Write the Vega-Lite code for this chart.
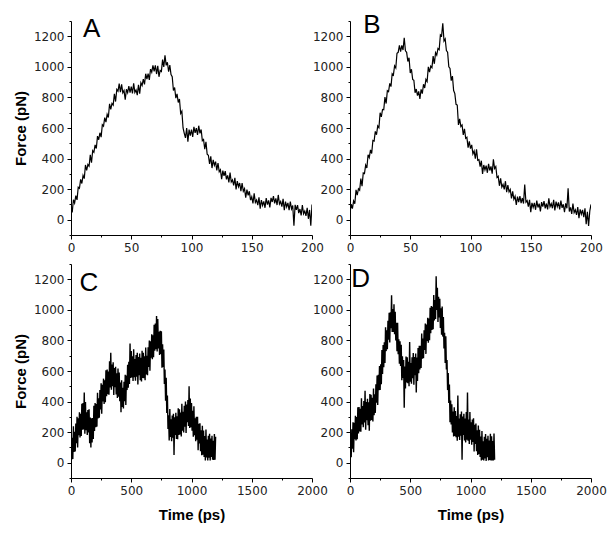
{
"$schema": "https://vega.github.io/schema/vega-lite/v6.json",
"padding": {"left": 13, "top": 12, "right": 5, "bottom": 5},
"background": "white",
"columns": 2,
"spacing": {"row": 29, "column": 38},
"bounds": "flush",
"config": {
  "view": {"stroke": null},
  "axis": {"grid": false, "domainColor": "black", "domainWidth": 1, "tickColor": "black", "tickWidth": 1,
    "labelFont": "DejaVu Sans", "labelFontSize": 12, "labelColor": "#222", "labelPadding": 3,
    "labelFlush": false, "labelOverlap": false, "format": "d",
    "titleFont": "Liberation Sans", "titleFontSize": 15, "titleFontWeight": "bold", "titleColor": "black"},
  "axisX": {"titlePadding": 11},
  "axisY": {"titlePadding": 5}
},
"datasets": {
"A": [{"t":0,"f":70},{"t":1,"f":48},{"t":2,"f":131},{"t":3,"f":109},{"t":4,"f":157},{"t":5,"f":130},{"t":6,"f":213},{"t":7,"f":206},{"t":8,"f":264},{"t":9,"f":237},{"t":10,"f":290},{"t":11,"f":269},{"t":12,"f":358},{"t":13,"f":322},{"t":14,"f":361},{"t":15,"f":350},{"t":16,"f":424},{"t":17,"f":373},{"t":18,"f":452},{"t":19,"f":441},{"t":20,"f":490},{"t":21,"f":466},{"t":22,"f":547},{"t":23,"f":523},{"t":24,"f":569},{"t":25,"f":540},{"t":26,"f":621},{"t":27,"f":612},{"t":28,"f":668},{"t":29,"f":639},{"t":30,"f":690},{"t":31,"f":669},{"t":32,"f":758},{"t":33,"f":722},{"t":34,"f":761},{"t":35,"f":750},{"t":36,"f":824},{"t":37,"f":773},{"t":38,"f":852},{"t":39,"f":841},{"t":40,"f":890},{"t":41,"f":835},{"t":42,"f":885},{"t":43,"f":830},{"t":44,"f":845},{"t":45,"f":785},{"t":46,"f":853},{"t":47,"f":831},{"t":48,"f":874},{"t":49,"f":832},{"t":50,"f":870},{"t":51,"f":826},{"t":52,"f":892},{"t":53,"f":833},{"t":54,"f":849},{"t":55,"f":815},{"t":56,"f":882},{"t":57,"f":824},{"t":58,"f":896},{"t":59,"f":878},{"t":60,"f":920},{"t":61,"f":885},{"t":62,"f":955},{"t":63,"f":920},{"t":64,"f":955},{"t":65,"f":915},{"t":66,"f":985},{"t":67,"f":965},{"t":68,"f":1010},{"t":69,"f":970},{"t":70,"f":1010},{"t":71,"f":953},{"t":72,"f":1007},{"t":73,"f":935},{"t":74,"f":977},{"t":75,"f":970},{"t":76,"f":1047},{"t":77,"f":1000},{"t":78,"f":1075},{"t":79,"f":1010},{"t":80,"f":1030},{"t":81,"f":968},{"t":82,"f":1012},{"t":83,"f":950},{"t":84,"f":935},{"t":85,"f":845},{"t":86,"f":865},{"t":87,"f":795},{"t":88,"f":823},{"t":89,"f":767},{"t":90,"f":790},{"t":91,"f":695},{"t":92,"f":710},{"t":93,"f":600},{"t":94,"f":565},{"t":95,"f":535},{"t":96,"f":600},{"t":97,"f":510},{"t":98,"f":590},{"t":99,"f":550},{"t":100,"f":590},{"t":101,"f":541},{"t":102,"f":607},{"t":103,"f":568},{"t":104,"f":599},{"t":105,"f":555},{"t":106,"f":615},{"t":107,"f":565},{"t":108,"f":590},{"t":109,"f":517},{"t":110,"f":525},{"t":111,"f":462},{"t":112,"f":510},{"t":113,"f":428},{"t":114,"f":422},{"t":115,"f":365},{"t":116,"f":414},{"t":117,"f":338},{"t":118,"f":392},{"t":119,"f":356},{"t":120,"f":380},{"t":121,"f":323},{"t":122,"f":371},{"t":123,"f":314},{"t":124,"f":327},{"t":125,"f":265},{"t":126,"f":321},{"t":127,"f":287},{"t":128,"f":318},{"t":129,"f":264},{"t":130,"f":290},{"t":131,"f":244},{"t":132,"f":308},{"t":133,"f":247},{"t":134,"f":261},{"t":135,"f":225},{"t":136,"f":274},{"t":137,"f":198},{"t":138,"f":252},{"t":139,"f":216},{"t":140,"f":240},{"t":141,"f":187},{"t":142,"f":239},{"t":143,"f":186},{"t":144,"f":203},{"t":145,"f":145},{"t":146,"f":197},{"t":147,"f":159},{"t":148,"f":186},{"t":149,"f":128},{"t":150,"f":150},{"t":151,"f":106},{"t":152,"f":172},{"t":153,"f":113},{"t":154,"f":129},{"t":155,"f":95},{"t":156,"f":146},{"t":157,"f":72},{"t":158,"f":128},{"t":159,"f":94},{"t":160,"f":120},{"t":161,"f":78},{"t":162,"f":141},{"t":163,"f":99},{"t":164,"f":127},{"t":165,"f":80},{"t":166,"f":143},{"t":167,"f":116},{"t":168,"f":154},{"t":169,"f":107},{"t":170,"f":140},{"t":171,"f":96},{"t":172,"f":162},{"t":173,"f":103},{"t":174,"f":119},{"t":175,"f":85},{"t":176,"f":136},{"t":177,"f":62},{"t":178,"f":118},{"t":179,"f":84},{"t":180,"f":110},{"t":181,"f":62},{"t":182,"f":119},{"t":183,"f":71},{"t":184,"f":93},{"t":185,"f":-40},{"t":186,"f":97},{"t":187,"f":64},{"t":188,"f":96},{"t":189,"f":43},{"t":190,"f":70},{"t":191,"f":28},{"t":192,"f":96},{"t":193,"f":39},{"t":194,"f":57},{"t":195,"f":25},{"t":196,"f":78},{"t":197,"f":6},{"t":198,"f":64},{"t":199,"f":-40},{"t":200,"f":100}],
"B": [{"t":0,"f":45},{"t":1,"f":101},{"t":2,"f":72},{"t":3,"f":123},{"t":4,"f":104},{"t":5,"f":195},{"t":6,"f":161},{"t":7,"f":202},{"t":8,"f":193},{"t":9,"f":269},{"t":10,"f":220},{"t":11,"f":306},{"t":12,"f":302},{"t":13,"f":358},{"t":14,"f":339},{"t":15,"f":425},{"t":16,"f":406},{"t":17,"f":457},{"t":18,"f":433},{"t":19,"f":519},{"t":20,"f":515},{"t":21,"f":578},{"t":22,"f":556},{"t":23,"f":614},{"t":24,"f":602},{"t":25,"f":700},{"t":26,"f":673},{"t":27,"f":721},{"t":28,"f":719},{"t":29,"f":802},{"t":30,"f":760},{"t":31,"f":844},{"t":32,"f":838},{"t":33,"f":892},{"t":34,"f":871},{"t":35,"f":955},{"t":36,"f":946},{"t":37,"f":1007},{"t":38,"f":993},{"t":39,"f":1089},{"t":40,"f":1095},{"t":41,"f":1140},{"t":42,"f":1100},{"t":43,"f":1140},{"t":44,"f":1110},{"t":45,"f":1190},{"t":46,"f":1105},{"t":47,"f":1095},{"t":48,"f":1035},{"t":49,"f":1060},{"t":50,"f":960},{"t":51,"f":984},{"t":52,"f":918},{"t":53,"f":912},{"t":54,"f":831},{"t":55,"f":855},{"t":56,"f":812},{"t":57,"f":839},{"t":58,"f":791},{"t":59,"f":853},{"t":60,"f":825},{"t":61,"f":886},{"t":62,"f":862},{"t":63,"f":918},{"t":64,"f":904},{"t":65,"f":1000},{"t":66,"f":965},{"t":67,"f":1005},{"t":68,"f":995},{"t":69,"f":1070},{"t":70,"f":1020},{"t":71,"f":1093},{"t":72,"f":1077},{"t":73,"f":1120},{"t":74,"f":1112},{"t":75,"f":1210},{"t":76,"f":1202},{"t":77,"f":1285},{"t":78,"f":1169},{"t":79,"f":1183},{"t":80,"f":1107},{"t":81,"f":1096},{"t":82,"f":1000},{"t":83,"f":990},{"t":84,"f":910},{"t":85,"f":940},{"t":86,"f":845},{"t":87,"f":825},{"t":88,"f":755},{"t":89,"f":750},{"t":90,"f":620},{"t":91,"f":660},{"t":92,"f":610},{"t":93,"f":620},{"t":94,"f":555},{"t":95,"f":595},{"t":96,"f":532},{"t":97,"f":539},{"t":98,"f":471},{"t":99,"f":513},{"t":100,"f":465},{"t":101,"f":490},{"t":102,"f":430},{"t":103,"f":450},{"t":104,"f":400},{"t":105,"f":460},{"t":106,"f":389},{"t":107,"f":393},{"t":108,"f":347},{"t":109,"f":386},{"t":110,"f":300},{"t":111,"f":358},{"t":112,"f":326},{"t":113,"f":354},{"t":114,"f":307},{"t":115,"f":365},{"t":116,"f":322},{"t":117,"f":349},{"t":118,"f":301},{"t":119,"f":395},{"t":120,"f":335},{"t":121,"f":348},{"t":122,"f":276},{"t":123,"f":284},{"t":124,"f":222},{"t":125,"f":270},{"t":126,"f":213},{"t":127,"f":231},{"t":128,"f":199},{"t":129,"f":252},{"t":130,"f":180},{"t":131,"f":226},{"t":132,"f":182},{"t":133,"f":198},{"t":134,"f":139},{"t":135,"f":185},{"t":136,"f":134},{"t":137,"f":153},{"t":138,"f":97},{"t":139,"f":151},{"t":140,"f":115},{"t":141,"f":154},{"t":142,"f":108},{"t":143,"f":142},{"t":144,"f":106},{"t":145,"f":230},{"t":146,"f":115},{"t":147,"f":125},{"t":148,"f":85},{"t":149,"f":130},{"t":150,"f":50},{"t":151,"f":110},{"t":152,"f":80},{"t":153,"f":110},{"t":154,"f":65},{"t":155,"f":125},{"t":156,"f":80},{"t":157,"f":105},{"t":158,"f":55},{"t":159,"f":115},{"t":160,"f":85},{"t":161,"f":122},{"t":162,"f":74},{"t":163,"f":106},{"t":164,"f":68},{"t":165,"f":140},{"t":166,"f":85},{"t":167,"f":105},{"t":168,"f":75},{"t":169,"f":130},{"t":170,"f":60},{"t":171,"f":118},{"t":172,"f":86},{"t":173,"f":114},{"t":174,"f":67},{"t":175,"f":125},{"t":176,"f":78},{"t":177,"f":101},{"t":178,"f":49},{"t":179,"f":107},{"t":180,"f":75},{"t":181,"f":205},{"t":182,"f":54},{"t":183,"f":81},{"t":184,"f":38},{"t":185,"f":105},{"t":186,"f":47},{"t":187,"f":64},{"t":188,"f":31},{"t":189,"f":83},{"t":190,"f":10},{"t":191,"f":68},{"t":192,"f":36},{"t":193,"f":64},{"t":194,"f":17},{"t":195,"f":75},{"t":196,"f":-30},{"t":197,"f":51},{"t":198,"f":-40},{"t":199,"f":57},{"t":200,"f":100}],
"C": [{"t":0,"f":170},{"t":5,"f":20},{"t":10,"f":164},{"t":15,"f":25},{"t":20,"f":238},{"t":25,"f":70},{"t":30,"f":202},{"t":35,"f":74},{"t":40,"f":256},{"t":45,"f":128},{"t":50,"f":300},{"t":55,"f":100},{"t":60,"f":290},{"t":65,"f":180},{"t":70,"f":330},{"t":75,"f":165},{"t":80,"f":320},{"t":85,"f":175},{"t":90,"f":385},{"t":95,"f":215},{"t":100,"f":390},{"t":105,"f":217},{"t":110,"f":460},{"t":115,"f":190},{"t":120,"f":397},{"t":125,"f":213},{"t":130,"f":330},{"t":135,"f":182},{"t":140,"f":345},{"t":145,"f":197},{"t":150,"f":350},{"t":155,"f":127},{"t":160,"f":295},{"t":165,"f":100},{"t":170,"f":290},{"t":175,"f":132},{"t":180,"f":293},{"t":185,"f":155},{"t":190,"f":372},{"t":195,"f":208},{"t":200,"f":390},{"t":205,"f":232},{"t":210,"f":384},{"t":215,"f":236},{"t":220,"f":458},{"t":225,"f":290},{"t":230,"f":422},{"t":235,"f":294},{"t":240,"f":476},{"t":245,"f":348},{"t":250,"f":520},{"t":255,"f":320},{"t":260,"f":510},{"t":265,"f":400},{"t":270,"f":550},{"t":275,"f":385},{"t":280,"f":540},{"t":285,"f":395},{"t":290,"f":605},{"t":295,"f":435},{"t":300,"f":610},{"t":305,"f":448},{"t":310,"f":597},{"t":315,"f":445},{"t":320,"f":663},{"t":325,"f":492},{"t":330,"f":720},{"t":335,"f":477},{"t":340,"f":643},{"t":345,"f":500},{"t":350,"f":657},{"t":355,"f":443},{"t":360,"f":620},{"t":365,"f":494},{"t":370,"f":627},{"t":375,"f":446},{"t":380,"f":585},{"t":385,"f":424},{"t":390,"f":617},{"t":395,"f":431},{"t":400,"f":590},{"t":405,"f":402},{"t":410,"f":525},{"t":415,"f":330},{"t":420,"f":540},{"t":425,"f":365},{"t":430,"f":490},{"t":435,"f":355},{"t":440,"f":530},{"t":445,"f":402},{"t":450,"f":575},{"t":455,"f":377},{"t":460,"f":570},{"t":465,"f":475},{"t":470,"f":640},{"t":475,"f":490},{"t":480,"f":660},{"t":485,"f":515},{"t":490,"f":780},{"t":495,"f":555},{"t":500,"f":730},{"t":505,"f":558},{"t":510,"f":696},{"t":515,"f":534},{"t":520,"f":742},{"t":525,"f":560},{"t":530,"f":678},{"t":535,"f":536},{"t":540,"f":704},{"t":545,"f":562},{"t":550,"f":720},{"t":555,"f":511},{"t":560,"f":692},{"t":565,"f":573},{"t":570,"f":714},{"t":575,"f":540},{"t":580,"f":686},{"t":585,"f":532},{"t":590,"f":733},{"t":595,"f":554},{"t":600,"f":720},{"t":605,"f":553},{"t":610,"f":697},{"t":615,"f":540},{"t":620,"f":753},{"t":625,"f":577},{"t":630,"f":700},{"t":635,"f":572},{"t":640,"f":755},{"t":645,"f":627},{"t":650,"f":800},{"t":655,"f":602},{"t":660,"f":795},{"t":665,"f":687},{"t":670,"f":840},{"t":675,"f":677},{"t":680,"f":833},{"t":685,"f":690},{"t":690,"f":902},{"t":695,"f":733},{"t":700,"f":910},{"t":705,"f":742},{"t":710,"f":960},{"t":715,"f":727},{"t":720,"f":940},{"t":725,"f":748},{"t":730,"f":857},{"t":735,"f":705},{"t":740,"f":863},{"t":745,"f":712},{"t":750,"f":860},{"t":755,"f":622},{"t":760,"f":775},{"t":765,"f":627},{"t":770,"f":740},{"t":775,"f":515},{"t":780,"f":610},{"t":785,"f":405},{"t":790,"f":555},{"t":795,"f":325},{"t":800,"f":440},{"t":805,"f":220},{"t":810,"f":310},{"t":815,"f":146},{"t":820,"f":352},{"t":825,"f":169},{"t":830,"f":285},{"t":835,"f":141},{"t":840,"f":308},{"t":845,"f":164},{"t":850,"f":320},{"t":855,"f":50},{"t":860,"f":298},{"t":865,"f":182},{"t":870,"f":326},{"t":875,"f":155},{"t":880,"f":304},{"t":885,"f":153},{"t":890,"f":357},{"t":895,"f":181},{"t":900,"f":350},{"t":905,"f":184},{"t":910,"f":328},{"t":915,"f":172},{"t":920,"f":386},{"t":925,"f":210},{"t":930,"f":334},{"t":935,"f":198},{"t":940,"f":372},{"t":945,"f":236},{"t":950,"f":400},{"t":955,"f":195},{"t":960,"f":380},{"t":965,"f":265},{"t":970,"f":410},{"t":975,"f":240},{"t":980,"f":500},{"t":985,"f":227},{"t":990,"f":420},{"t":995,"f":232},{"t":1000,"f":390},{"t":1005,"f":210},{"t":1010,"f":340},{"t":1015,"f":170},{"t":1020,"f":370},{"t":1025,"f":180},{"t":1030,"f":290},{"t":1035,"f":140},{"t":1040,"f":300},{"t":1045,"f":150},{"t":1050,"f":300},{"t":1055,"f":82},{"t":1060,"f":254},{"t":1065,"f":126},{"t":1070,"f":258},{"t":1075,"f":75},{"t":1080,"f":212},{"t":1085,"f":49},{"t":1090,"f":241},{"t":1095,"f":53},{"t":1100,"f":210},{"t":1105,"f":37},{"t":1110,"f":174},{"t":1115,"f":15},{"t":1120,"f":218},{"t":1125,"f":35},{"t":1130,"f":152},{"t":1135,"f":15},{"t":1140,"f":176},{"t":1145,"f":33},{"t":1150,"f":190},{"t":1155,"f":15},{"t":1160,"f":158},{"t":1165,"f":37},{"t":1170,"f":176},{"t":1175,"f":20},{"t":1180,"f":144},{"t":1185,"f":18},{"t":1190,"f":187},{"t":1195,"f":20},{"t":1200,"f":170}],
"D": [{"t":0,"f":30},{"t":5,"f":163},{"t":10,"f":36},{"t":15,"f":219},{"t":20,"f":92},{"t":25,"f":265},{"t":30,"f":68},{"t":35,"f":261},{"t":40,"f":154},{"t":45,"f":307},{"t":50,"f":145},{"t":55,"f":299},{"t":60,"f":153},{"t":65,"f":362},{"t":70,"f":191},{"t":75,"f":365},{"t":80,"f":204},{"t":85,"f":353},{"t":90,"f":202},{"t":95,"f":421},{"t":100,"f":250},{"t":105,"f":371},{"t":110,"f":232},{"t":115,"f":403},{"t":120,"f":264},{"t":125,"f":470},{"t":130,"f":216},{"t":135,"f":397},{"t":140,"f":278},{"t":145,"f":419},{"t":150,"f":245},{"t":155,"f":395},{"t":160,"f":210},{"t":165,"f":450},{"t":170,"f":275},{"t":175,"f":445},{"t":180,"f":280},{"t":185,"f":425},{"t":190,"f":270},{"t":195,"f":485},{"t":200,"f":310},{"t":205,"f":448},{"t":210,"f":326},{"t":215,"f":514},{"t":220,"f":392},{"t":225,"f":570},{"t":230,"f":378},{"t":235,"f":576},{"t":240,"f":474},{"t":245,"f":632},{"t":250,"f":475},{"t":255,"f":644},{"t":260,"f":513},{"t":265,"f":737},{"t":270,"f":581},{"t":275,"f":770},{"t":280,"f":624},{"t":285,"f":788},{"t":290,"f":652},{"t":295,"f":886},{"t":300,"f":730},{"t":305,"f":866},{"t":310,"f":742},{"t":315,"f":929},{"t":320,"f":805},{"t":325,"f":981},{"t":330,"f":787},{"t":335,"f":984},{"t":340,"f":880},{"t":345,"f":1095},{"t":350,"f":855},{"t":355,"f":1005},{"t":360,"f":855},{"t":365,"f":1037},{"t":370,"f":840},{"t":375,"f":987},{"t":380,"f":800},{"t":385,"f":915},{"t":390,"f":730},{"t":395,"f":915},{"t":400,"f":710},{"t":405,"f":808},{"t":410,"f":647},{"t":415,"f":795},{"t":420,"f":633},{"t":425,"f":772},{"t":430,"f":540},{"t":435,"f":697},{"t":440,"f":555},{"t":445,"f":672},{"t":450,"f":360},{"t":455,"f":630},{"t":460,"f":485},{"t":465,"f":695},{"t":470,"f":525},{"t":475,"f":690},{"t":480,"f":520},{"t":485,"f":660},{"t":490,"f":500},{"t":495,"f":790},{"t":500,"f":530},{"t":505,"f":653},{"t":510,"f":517},{"t":515,"f":690},{"t":520,"f":553},{"t":525,"f":717},{"t":530,"f":510},{"t":535,"f":692},{"t":540,"f":573},{"t":545,"f":715},{"t":550,"f":460},{"t":555,"f":688},{"t":560,"f":535},{"t":565,"f":750},{"t":570,"f":585},{"t":575,"f":765},{"t":580,"f":610},{"t":585,"f":765},{"t":590,"f":620},{"t":595,"f":845},{"t":600,"f":680},{"t":605,"f":812},{"t":610,"f":684},{"t":615,"f":866},{"t":620,"f":738},{"t":625,"f":910},{"t":630,"f":712},{"t":635,"f":904},{"t":640,"f":796},{"t":645,"f":948},{"t":650,"f":785},{"t":655,"f":943},{"t":660,"f":801},{"t":665,"f":1014},{"t":670,"f":847},{"t":675,"f":1025},{"t":680,"f":868},{"t":685,"f":1021},{"t":690,"f":874},{"t":695,"f":1097},{"t":700,"f":930},{"t":705,"f":1065},{"t":710,"f":940},{"t":715,"f":1220},{"t":720,"f":1000},{"t":725,"f":1145},{"t":730,"f":920},{"t":735,"f":1085},{"t":740,"f":950},{"t":745,"f":1073},{"t":750,"f":882},{"t":755,"f":1010},{"t":760,"f":838},{"t":765,"f":1022},{"t":770,"f":825},{"t":775,"f":953},{"t":780,"f":747},{"t":785,"f":850},{"t":790,"f":653},{"t":795,"f":827},{"t":800,"f":610},{"t":805,"f":672},{"t":810,"f":475},{"t":815,"f":587},{"t":820,"f":390},{"t":825,"f":512},{"t":830,"f":265},{"t":835,"f":407},{"t":840,"f":250},{"t":845,"f":382},{"t":850,"f":198},{"t":855,"f":335},{"t":860,"f":172},{"t":865,"f":363},{"t":870,"f":175},{"t":875,"f":338},{"t":880,"f":167},{"t":885,"f":305},{"t":890,"f":143},{"t":895,"f":440},{"t":900,"f":170},{"t":905,"f":289},{"t":910,"f":148},{"t":915,"f":317},{"t":920,"f":176},{"t":925,"f":335},{"t":930,"f":20},{"t":935,"f":303},{"t":940,"f":182},{"t":945,"f":321},{"t":950,"f":145},{"t":955,"f":289},{"t":960,"f":133},{"t":965,"f":332},{"t":970,"f":151},{"t":975,"f":460},{"t":980,"f":144},{"t":985,"f":283},{"t":990,"f":122},{"t":995,"f":331},{"t":1000,"f":150},{"t":1005,"f":264},{"t":1010,"f":118},{"t":1015,"f":282},{"t":1020,"f":136},{"t":1025,"f":290},{"t":1030,"f":74},{"t":1035,"f":248},{"t":1040,"f":122},{"t":1045,"f":256},{"t":1050,"f":75},{"t":1055,"f":213},{"t":1060,"f":51},{"t":1065,"f":244},{"t":1070,"f":57},{"t":1075,"f":215},{"t":1080,"f":38},{"t":1085,"f":171},{"t":1090,"f":15},{"t":1095,"f":207},{"t":1100,"f":20},{"t":1105,"f":140},{"t":1110,"f":15},{"t":1115,"f":169},{"t":1120,"f":28},{"t":1125,"f":188},{"t":1130,"f":12},{"t":1135,"f":157},{"t":1140,"f":36},{"t":1145,"f":176},{"t":1150,"f":15},{"t":1155,"f":145},{"t":1160,"f":18},{"t":1165,"f":189},{"t":1170,"f":15},{"t":1175,"f":173},{"t":1180,"f":15},{"t":1185,"f":142},{"t":1190,"f":15},{"t":1195,"f":191},{"t":1200,"f":20}]
},
"concat": [
{
  "width": 241, "height": 214,
  "encoding": {
    "x": {"field": "t", "type": "quantitative", "scale": {"domain": [0, 200], "nice": false},
      "axis": {"title": null, "values": [0,25,50,75,100,125,150,175,200], "labelExpr": "datum.value % 50 === 0 ? datum.label : ''", "tickSize": {"condition": {"test": "datum.value % 50 === 0", "value": 4}, "value": 2}}},
    "y": {"field": "f", "type": "quantitative", "scale": {"domain": [-100, 1300], "nice": false},
      "axis": {"title": "Force (pN)", "values": [-100,0,100,200,300,400,500,600,700,800,900,1000,1100,1200,1300], "labelExpr": "datum.value % 200 === 0 ? datum.label : ''", "tickSize": {"condition": {"test": "datum.value % 200 === 0", "value": 4}, "value": 2}}}
  },
  "layer": [
    {"data": {"name": "A"}, "mark": {"type": "line", "color": "black", "strokeWidth": 1.2, "clip": true}},
    {"data": {"values": [{"t": 10, "f": 1195, "s": "A"}]}, "mark": {"type": "text", "align": "left", "baseline": "alphabetic", "font": "Liberation Sans", "fontSize": 26, "color": "black"}, "encoding": {"text": {"field": "s"}}}
  ]
},
{
  "width": 241, "height": 214,
  "encoding": {
    "x": {"field": "t", "type": "quantitative", "scale": {"domain": [0, 200], "nice": false},
      "axis": {"title": null, "values": [0,25,50,75,100,125,150,175,200], "labelExpr": "datum.value % 50 === 0 ? datum.label : ''", "tickSize": {"condition": {"test": "datum.value % 50 === 0", "value": 4}, "value": 2}}},
    "y": {"field": "f", "type": "quantitative", "scale": {"domain": [-100, 1300], "nice": false},
      "axis": {"title": null, "values": [-100,0,100,200,300,400,500,600,700,800,900,1000,1100,1200,1300], "labelExpr": "datum.value % 200 === 0 ? datum.label : ''", "tickSize": {"condition": {"test": "datum.value % 200 === 0", "value": 4}, "value": 2}}}
  },
  "layer": [
    {"data": {"name": "B"}, "mark": {"type": "line", "color": "black", "strokeWidth": 1.2, "clip": true}},
    {"data": {"values": [{"t": 11, "f": 1220, "s": "B"}]}, "mark": {"type": "text", "align": "left", "baseline": "alphabetic", "font": "Liberation Sans", "fontSize": 26, "color": "black"}, "encoding": {"text": {"field": "s"}}}
  ]
},
{
  "width": 241, "height": 214,
  "encoding": {
    "x": {"field": "t", "type": "quantitative", "scale": {"domain": [0, 2000], "nice": false},
      "axis": {"title": "Time (ps)", "values": [0,250,500,750,1000,1250,1500,1750,2000], "labelExpr": "datum.value % 500 === 0 ? datum.label : ''", "tickSize": {"condition": {"test": "datum.value % 500 === 0", "value": 4}, "value": 2}}},
    "y": {"field": "f", "type": "quantitative", "scale": {"domain": [-100, 1300], "nice": false},
      "axis": {"title": "Force (pN)", "values": [-100,0,100,200,300,400,500,600,700,800,900,1000,1100,1200,1300], "labelExpr": "datum.value % 200 === 0 ? datum.label : ''", "tickSize": {"condition": {"test": "datum.value % 200 === 0", "value": 4}, "value": 2}}}
  },
  "layer": [
    {"data": {"name": "C"}, "mark": {"type": "line", "color": "black", "strokeWidth": 1.4, "clip": true}},
    {"data": {"values": [{"t": 70, "f": 1125, "s": "C"}]}, "mark": {"type": "text", "align": "left", "baseline": "alphabetic", "font": "Liberation Sans", "fontSize": 26, "color": "black"}, "encoding": {"text": {"field": "s"}}}
  ]
},
{
  "width": 241, "height": 214,
  "encoding": {
    "x": {"field": "t", "type": "quantitative", "scale": {"domain": [0, 2000], "nice": false},
      "axis": {"title": "Time (ps)", "values": [0,250,500,750,1000,1250,1500,1750,2000], "labelExpr": "datum.value % 500 === 0 ? datum.label : ''", "tickSize": {"condition": {"test": "datum.value % 500 === 0", "value": 4}, "value": 2}}},
    "y": {"field": "f", "type": "quantitative", "scale": {"domain": [-100, 1300], "nice": false},
      "axis": {"title": null, "values": [-100,0,100,200,300,400,500,600,700,800,900,1000,1100,1200,1300], "labelExpr": "datum.value % 200 === 0 ? datum.label : ''", "tickSize": {"condition": {"test": "datum.value % 200 === 0", "value": 4}, "value": 2}}}
  },
  "layer": [
    {"data": {"name": "D"}, "mark": {"type": "line", "color": "black", "strokeWidth": 1.4, "clip": true}},
    {"data": {"values": [{"t": 10, "f": 1150, "s": "D"}]}, "mark": {"type": "text", "align": "left", "baseline": "alphabetic", "font": "Liberation Sans", "fontSize": 26, "color": "black"}, "encoding": {"text": {"field": "s"}}}
  ]
}
]
}
